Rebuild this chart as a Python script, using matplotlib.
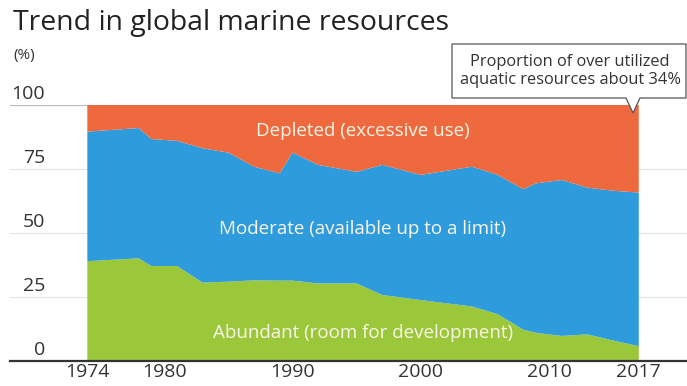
import matplotlib
matplotlib.use("Agg")
import matplotlib.pyplot as plt
from matplotlib.patches import Polygon

plt.rcParams["font.family"] = ["Open Sans", "DejaVu Sans"]

# share of marine stocks by state (%)
years = [1974, 1978, 1979, 1981, 1983, 1985, 1987, 1989, 1990, 1992, 1995,
         1997, 2000, 2004, 2006, 2008, 2009, 2011, 2013, 2015, 2017]
abundant = [39.0, 40.1, 37.1, 37.1, 30.6, 31.0, 31.5, 31.4, 31.4, 30.3, 30.3,
            25.8, 23.8, 21.3, 18.3, 12.2, 11.0, 9.8, 10.4, 8.0, 5.8]
moderate = [50.6, 50.9, 49.6, 48.9, 52.5, 50.4, 44.4, 41.9, 50.0, 46.3, 43.6,
            50.8, 48.9, 54.6, 54.4, 54.9, 58.4, 60.9, 57.3, 58.5, 60.0]
depleted = [10.4, 9.0, 13.3, 14.0, 16.9, 18.6, 24.1, 26.7, 18.6, 23.4, 26.1,
            23.4, 27.3, 24.1, 27.3, 32.9, 30.6, 29.3, 32.3, 33.5, 34.2]

xticks = [1974, 1980, 1990, 2000, 2010, 2017]
yticks = [0, 25, 50, 75, 100]
labels = ["Abundant (room for development)",
          "Moderate (available up to a limit)",
          "Depleted (excessive use)"]
colors = ["#9ac83a", "#2e9bdc", "#ee6a3e"]

W, H = 687, 386
fig = plt.figure(figsize=(W / 100, H / 100), dpi=100)
ax = fig.add_axes([10 / W, (H - 361) / H, 677 / W, 256 / H])

ax.set_xlim(1967.97, 2020.76)
ax.set_ylim(0, 100)

for v in yticks[1:-1]:
    ax.axhline(v, color="#e4e4e4", lw=0.8, zorder=0)
ax.axhline(100, xmax=(90 - 10) / 677, color="#bdbdbd", lw=0.9, zorder=0)

ax.stackplot(years, abundant, moderate, depleted, colors=colors, lw=0, zorder=2)
ax.axhline(0, color="#333333", lw=1.6, zorder=3, clip_on=False)

for v in yticks:
    ax.text((45 - 10) / 677, v + 4.4, str(v), transform=ax.get_yaxis_transform(),
            ha="right", va="center", fontsize=14, color="#333333")

ax.set_xticks(xticks)
ax.tick_params(axis="x", length=0, pad=1.5, labelsize=14, labelcolor="#333333")
ax.set_yticks([])
for s in ax.spines.values():
    s.set_visible(False)

# labels inside each band
for txt, yv in zip(labels, [10.9, 51.6, 89.8]):
    ax.text(1995.5, yv, txt, ha="center", va="center", fontsize=13.5,
            color="#fbf6ea", zorder=4)

fig.text(13 / W, 1 - 30 / H, "Trend in global marine resources", ha="left",
         va="baseline", fontsize=20.4, color="#222222")
fig.text(13 / W, 1 - 55 / H, "(%)", ha="left", va="center", fontsize=11,
         color="#333333")

# callout box with tail
def px(x, y):
    return (x / W, 1 - y / H)

box = [px(452, 44), px(686, 44), px(686, 98), px(640, 98), px(633, 113),
       px(626, 98), px(452, 98)]
fig.patches.append(Polygon(box, closed=True, transform=fig.transFigure,
                           facecolor="white", edgecolor="#555555", lw=0.9))
fig.text(570 / W, 1 - 71 / H,
         "Proportion of over utilized\naquatic resources about 34%",
         ha="center", va="center", fontsize=11.8, color="#333333",
         linespacing=1.25)

fig.savefig("out.png", dpi=100)
